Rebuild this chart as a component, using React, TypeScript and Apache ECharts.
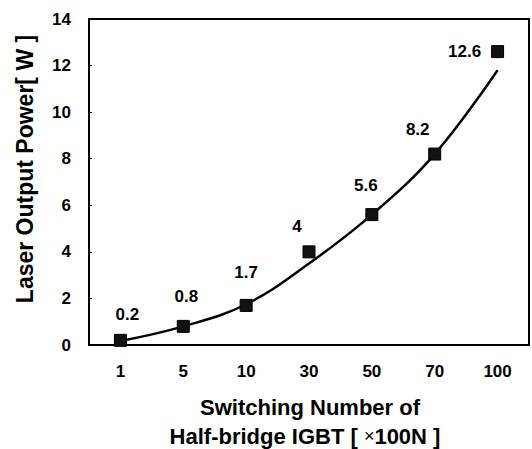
import React, { useEffect, useRef } from "react";
import * as echarts from "echarts";

const categories = ["1", "5", "10", "30", "50", "70", "100"];
const measuredPower = [0.2, 0.8, 1.7, 4, 5.6, 8.2, 12.6];
const trendPower = [0.17, 0.8, 1.75, 3.5, 5.6, 8.2, 11.8];
const yTicks = { min: 0, max: 14, interval: 2 };
const labelOffsets = [
  [7, -26],
  [3, -30],
  [0, -33],
  [-12, -25],
  [-6, -29],
  [-17, -25],
  [-33, 0],
];

const FONT = "'Liberation Sans', Arial, Helvetica, sans-serif";

export default function App() {
  const ref = useRef<HTMLDivElement>(null);
  useEffect(() => {
    document.body.style.margin = "0";
    const chart = echarts.init(ref.current!, null, { renderer: "svg" });
    chart.setOption({
      animation: false,
      backgroundColor: "#ffffff",
      grid: {
        left: 89,
        right: 3,
        top: 19,
        bottom: 104,
        show: true,
        borderColor: "#000",
        borderWidth: 2,
        backgroundColor: "transparent",
      },
      xAxis: {
        type: "category",
        data: categories,
        boundaryGap: true,
        axisLine: { lineStyle: { color: "#000", width: 2 } },
        axisTick: { show: false },
        axisLabel: {
          color: "#000",
          fontFamily: FONT,
          fontWeight: "bold",
          fontSize: 17,
          margin: 18,
        },
        splitLine: { show: false },
      },
      yAxis: {
        type: "value",
        min: yTicks.min,
        max: yTicks.max,
        interval: yTicks.interval,
        axisLine: { show: true, lineStyle: { color: "#000", width: 2 } },
        axisTick: { show: true, inside: true, length: 3, lineStyle: { color: "#000" } },
        axisLabel: {
          color: "#000",
          fontFamily: FONT,
          fontWeight: "bold",
          fontSize: 17,
          margin: 18,
        },
        splitLine: { show: false },
      },
      series: [
        {
          type: "line",
          data: trendPower,
          smooth: 0.4,
          showSymbol: false,
          symbol: "none",
          lineStyle: { color: "#000", width: 2.5 },
          z: 2,
        },
        {
          type: "scatter",
          data: measuredPower.map((v, i) => ({
            value: v,
            label: { offset: labelOffsets[i] },
          })),
          symbol: "rect",
          symbolSize: 12,
          itemStyle: { color: "#111", borderColor: "#000", borderWidth: 1, opacity: 1 },
          label: {
            show: true,
            position: "inside",
            color: "#000",
            opacity: 1,
            fontFamily: FONT,
            fontWeight: "bold",
            fontSize: 17,
            formatter: (p: any) => String(p.value),
          },
          z: 3,
        },
      ],
      graphic: [
        {
          type: "text",
          x: 25,
          y: 169,
          rotation: Math.PI / 2,
          style: {
            text: "Laser Output Power[ W ]",
            fontFamily: FONT,
            fontWeight: "bold",
            fontSize: 23,
            fill: "#000",
            align: "center",
            verticalAlign: "middle",
          },
        },
        {
          type: "text",
          x: 310,
          y: 407,
          style: {
            text: "Switching Number of",
            fontFamily: FONT,
            fontWeight: "bold",
            fontSize: 22,
            fill: "#000",
            align: "center",
            verticalAlign: "middle",
          },
        },
        {
          type: "text",
          x: 305,
          y: 436,
          style: {
            text: "Half-bridge IGBT [ {m|×}100N ]",
            fontFamily: FONT,
            fontWeight: "bold",
            fontSize: 22,
            fill: "#000",
            align: "center",
            verticalAlign: "middle",
            rich: {
              m: {
                fontFamily: FONT,
                fontSize: 18,
                fontWeight: "normal",
                fill: "#000",
              },
            },
          },
        },
      ],
    });
    return () => chart.dispose();
  }, []);
  return <div ref={ref} style={{ width: 532, height: 449 }} />;
}
